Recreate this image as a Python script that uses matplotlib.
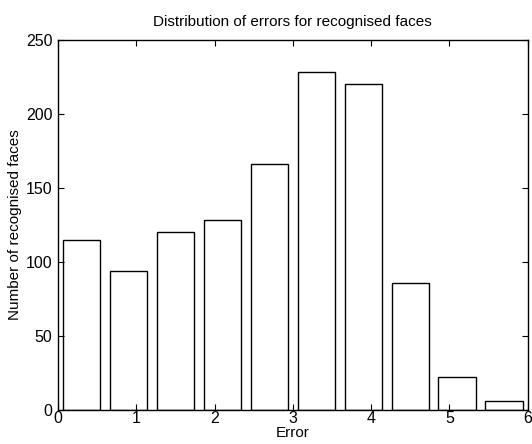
import numpy as np
import matplotlib.pyplot as plt
from matplotlib import font_manager

# histogram of errors (bin centres and counts)
bin_centres = [0.3, 0.9, 1.5, 2.1, 2.7, 3.3, 3.9, 4.5, 5.1, 5.7]
counts = [115, 94, 120, 128, 166, 228, 220, 86, 22, 6]
x_ticks = [0, 1, 2, 3, 4, 5, 6]
y_ticks = [0, 50, 100, 150, 200, 250]

names = {f.name for f in font_manager.fontManager.ttflist}
fam = 'Liberation Sans Narrow' if 'Liberation Sans Narrow' in names else 'Liberation Sans'
plt.rcParams['font.family'] = [fam, 'DejaVu Sans']
plt.rcParams['font.size'] = 10

fig = plt.figure(figsize=(5.32, 4.44), dpi=100)
ax = fig.add_axes([0.109, 0.0766, 0.883, 0.834])

ax.bar(bin_centres, counts, width=0.48, facecolor='white', edgecolor='black', linewidth=1.0)

ax.set_xlim(0, 6)
ax.set_ylim(0, 250)
ax.set_xticks(x_ticks)
ax.set_yticks(y_ticks)
ax.tick_params(direction='in', top=True, right=True, length=4, labelsize=11.5)
ax.tick_params(axis='x', pad=1)
ax.tick_params(axis='y', pad=4)
for s in ax.spines.values():
    s.set_linewidth(1.0)

ax.set_title('Distribution of errors for recognised faces', fontsize=11, pad=10)
ax.set_xlabel('Error', fontsize=11, labelpad=0)
ax.set_ylabel('Number of recognised faces', fontsize=11, labelpad=3)

fig.savefig('out.png', dpi=100)
